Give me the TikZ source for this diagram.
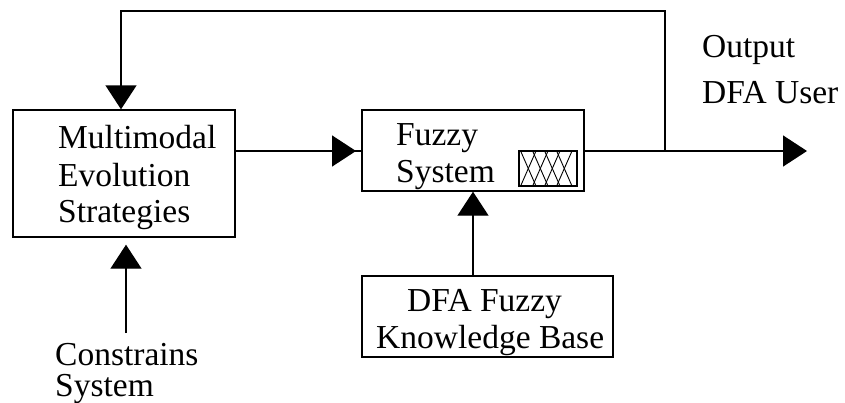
\documentclass[tikz,border=0pt]{standalone}
\usepackage{fontspec}
\setmainfont{Liberation Serif}
\usetikzlibrary{arrows.meta,calc}
\tikzset{
  lbl/.style={anchor=base west,inner sep=0pt,font=\fontsize{33.5}{38}\selectfont},
  boxn/.style={draw,line width=1.4pt,inner sep=0pt},
  conn/.style={line width=1.4pt,-{Triangle[length=24pt,width=31pt]}},
  wire/.style={line width=1.4pt},
  hatch/.style={line width=0.9pt}
}
\begin{document}
\begin{tikzpicture}[x=1pt,y=-1pt]
\useasboundingbox (0,0) rectangle (845,402);
\node[boxn,minimum width=222pt,minimum height=127pt] (es) at (124,173.5) {};
\node[boxn,minimum width=222pt,minimum height=81pt] (fs) at (473,150.5) {};
\node[boxn,minimum width=251pt,minimum height=81pt] (kb) at (487.5,316.5) {};
\node[boxn,minimum width=58pt,minimum height=35pt] (mf) at (548,168.5) {};
\foreach \a in {2,14,26,38}{
  \draw[hatch] ($(mf.south west)+(\a pt,0)$) -- ($(mf.north west)+(\a pt+16pt,0)$);
  \draw[hatch] ($(mf.north west)+(\a pt,0)$) -- ($(mf.south west)+(\a pt+16pt,0)$);
}
\coordinate (out) at (807,151);
\coordinate (tap) at (665,151);
\coordinate (cs) at (126,333);
\coordinate (tr) at (665,11);
\coordinate (tl) at (121,11);
\coordinate (esL) at (235,151);
\coordinate (fsL) at (362,151);
\coordinate (fsR) at (584,151);
\draw[wire] (esL) -- (fsL);
\draw[conn,shorten >=6pt] (esL) -- (fsL);
\draw[wire] (fsR) -- (tap);
\draw[conn] (tap) -- (out);
\draw[conn] (tap) -- (tr) -- (tl) -- (tl |- es.north);
\draw[conn] (kb.north -| fs.south) -- (fs.south);
\draw[conn,shorten >=7pt] (cs) -- (cs |- es.south);
\node[lbl] (t1) at (58,148) {Multimodal};
\node[lbl] (t2) at (58,186) {Evolution};
\node[lbl] (t3) at (58,222) {Strategies};
\node[lbl] (t4) at (396,145) {Fuzzy};
\node[lbl] (t5) at (396,182) {System};
\node[lbl] (t6) at (407,311) {DFA Fuzzy};
\node[lbl] (t7) at (376,348) {Knowledge Base};
\node[lbl] (t8) at (702,57) {Output};
\node[lbl] (t9) at (702,103) {DFA User};
\node[lbl] (t10) at (55,365) {Constrains};
\node[lbl] (t11) at (55,396) {System};
\end{tikzpicture}
\end{document}
